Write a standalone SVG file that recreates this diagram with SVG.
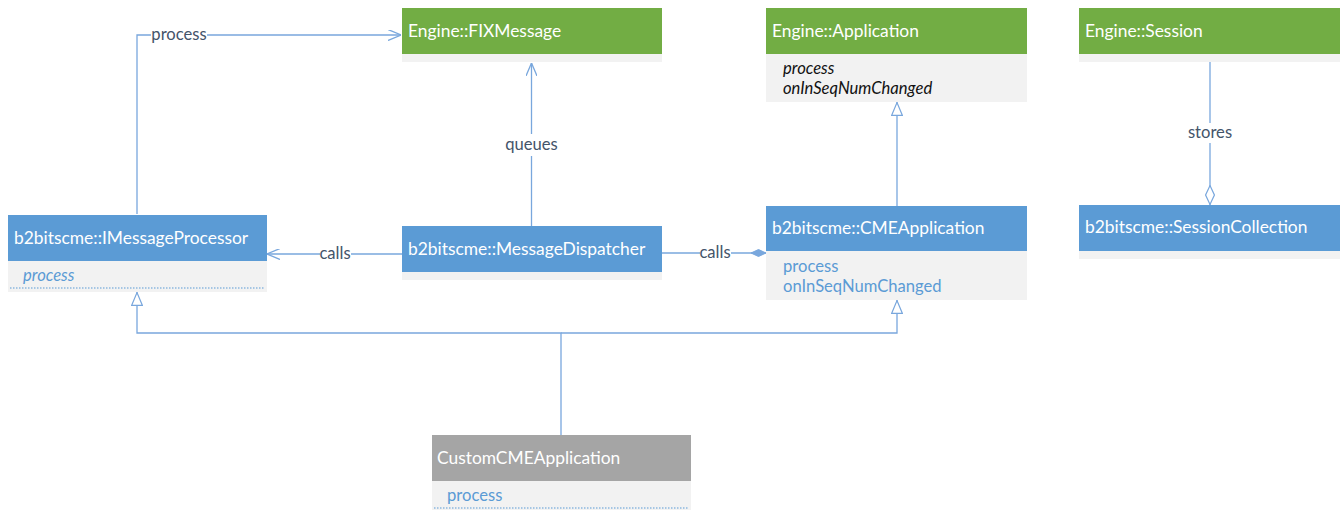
<svg xmlns="http://www.w3.org/2000/svg" width="1340" height="511" viewBox="0 0 1340 511">
<style>
.hdr{font-family:Lato,"Open Sans","Liberation Sans",sans-serif;font-size:17.4px;fill:#ffffff}
.attr{font-family:Lato,"Open Sans","Liberation Sans",sans-serif;font-size:16.6px}
.blueattr{fill:#5b9bd5}
.blackattr{fill:#111111}
.it{font-style:italic}
.band{fill:#f2f2f2}
.green{fill:#72ad44}
.blue{fill:#5b9bd5}
.grey{fill:#a5a5a5}
.conn{fill:none;stroke:#79a7dd;stroke-width:1.3}
.lbl{font-family:Lato,"Open Sans","Liberation Sans",sans-serif;font-size:16.6px;fill:#44546a;text-anchor:middle}
.lblbg{fill:#ffffff}
.dots{stroke:#5b9bd5;stroke-width:1;stroke-dasharray:1.5 1.5}
</style>
<defs>
<marker id="open" viewBox="0 0 13 11" refX="13" refY="5.5" markerWidth="13" markerHeight="11" markerUnits="userSpaceOnUse" orient="auto">
<path d="M0,0 L13,5.5 L0,11" fill="none" stroke="#79a7dd" stroke-width="1.3"/>
</marker>
<marker id="tri" viewBox="0 0 14 12" refX="14" refY="6" markerWidth="14" markerHeight="12" markerUnits="userSpaceOnUse" orient="auto">
<path d="M0.6,0.6 L13.4,6 L0.6,11.4 Z" fill="#ffffff" stroke="#79a7dd" stroke-width="1.2"/>
</marker>
<marker id="dfill" viewBox="0 0 15 8" refX="15" refY="4" markerWidth="15" markerHeight="8" markerUnits="userSpaceOnUse" orient="auto">
<path d="M0,4 L7.5,0.5 L15,4 L7.5,7.5 Z" fill="#79a7dd" stroke="#79a7dd" stroke-width="1"/>
</marker>
<marker id="dhollow" viewBox="0 0 20 10" refX="20" refY="5" markerWidth="20" markerHeight="10" markerUnits="userSpaceOnUse" orient="auto">
<path d="M0.6,5 L10,0.6 L19.4,5 L10,9.4 Z" fill="#ffffff" stroke="#79a7dd" stroke-width="1.2"/>
</marker>
</defs>

<g id="connectors">
<path class="conn" d="M137,214 V35 H401" marker-end="url(#open)"/>
<path class="conn" d="M531.5,226 V63" marker-end="url(#open)"/>
<path class="conn" d="M402,254 H267" marker-end="url(#open)"/>
<path class="conn" d="M662,253 H766" marker-end="url(#dfill)"/>
<path class="conn" d="M897,206 V102" marker-end="url(#tri)"/>
<path class="conn" d="M1210,62 V205" marker-end="url(#dhollow)"/>
<path class="conn" d="M561,435 V333 H137 V292" marker-end="url(#tri)"/>
<path class="conn" d="M561,333 H897 V300" marker-end="url(#tri)"/>
<rect class="lblbg" x="151" y="25" width="56" height="20"/>
<text class="lbl" x="179" y="40">process</text>
<rect class="lblbg" x="503" y="134" width="57" height="22"/>
<text class="lbl" x="531.5" y="150">queues</text>
<rect class="lblbg" x="320" y="244" width="31" height="20"/>
<text class="lbl" x="335" y="259">calls</text>
<rect class="lblbg" x="700" y="243" width="31" height="20"/>
<text class="lbl" x="715" y="258">calls</text>
<rect class="lblbg" x="1187" y="123" width="46" height="20"/>
<text class="lbl" x="1210" y="138">stores</text>
</g>

<g id="fixmessage">
<rect class="band" x="402" y="54" width="260" height="8"/>
<rect class="green" x="402" y="8" width="260" height="46"/>
<text class="hdr" x="408" y="37">Engine::FIXMessage</text>
</g>

<g id="application">
<rect class="band" x="766" y="54" width="261" height="48"/>
<rect class="green" x="766" y="8" width="261" height="46"/>
<text class="hdr" x="772" y="37">Engine::Application</text>
<text class="attr blackattr it" x="783" y="74">process</text>
<text class="attr blackattr it" x="783" y="94">onInSeqNumChanged</text>
</g>

<g id="session">
<rect class="band" x="1079" y="54" width="261" height="8"/>
<rect class="green" x="1079" y="8" width="261" height="46"/>
<text class="hdr" x="1085" y="37">Engine::Session</text>
</g>

<g id="imessageprocessor">
<rect class="band" x="8" y="261" width="259" height="31"/>
<rect class="blue" x="8" y="215" width="259" height="46"/>
<text class="hdr" x="14" y="244">b2bitscme::IMessageProcessor</text>
<text class="attr blueattr it" x="23" y="281">process</text>
<line class="dots" x1="10" y1="288" x2="265" y2="288"/>
</g>

<g id="messagedispatcher">
<rect class="band" x="402" y="272" width="260" height="8"/>
<rect class="blue" x="402" y="226" width="260" height="46"/>
<text class="hdr" x="408" y="255">b2bitscme::MessageDispatcher</text>
</g>

<g id="cmeapplication">
<rect class="band" x="766" y="251" width="261" height="49"/>
<rect class="blue" x="766" y="206" width="261" height="45"/>
<text class="hdr" x="772" y="234">b2bitscme::CMEApplication</text>
<text class="attr blueattr" x="783" y="272">process</text>
<text class="attr blueattr" x="783" y="292">onInSeqNumChanged</text>
</g>

<g id="sessioncollection">
<rect class="band" x="1079" y="251" width="261" height="8"/>
<rect class="blue" x="1079" y="205" width="261" height="46"/>
<text class="hdr" x="1085" y="233">b2bitscme::SessionCollection</text>
</g>

<g id="customcmeapplication">
<rect class="band" x="432" y="481" width="259" height="29"/>
<rect class="grey" x="432" y="435" width="259" height="46"/>
<text class="hdr" x="437" y="464">CustomCMEApplication</text>
<text class="attr blueattr" x="447" y="501">process</text>
<line class="dots" x1="434" y1="508" x2="689" y2="508"/>
</g>
</svg>
